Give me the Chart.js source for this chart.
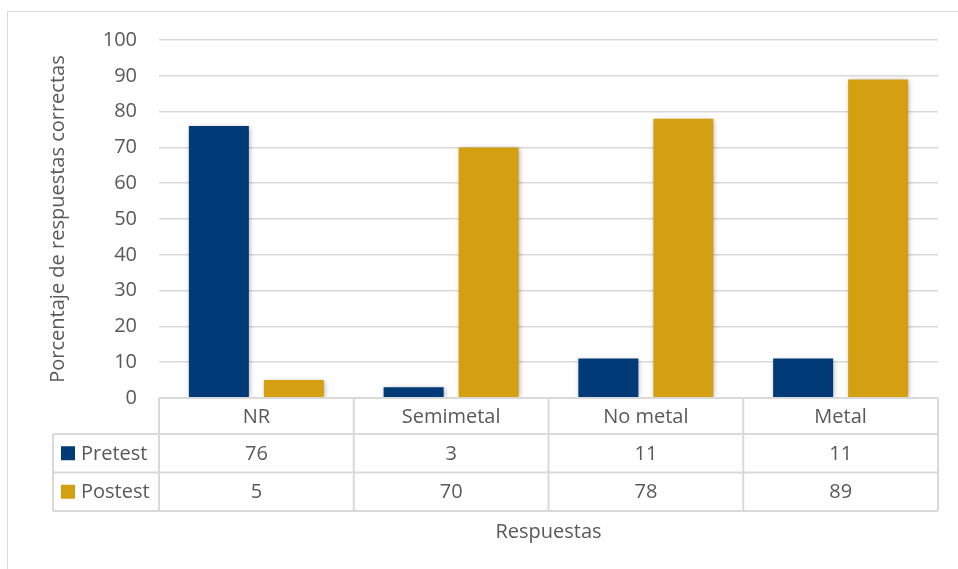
<!DOCTYPE html>
<html>
<head>
<meta charset="utf-8">
<script src="https://cdn.jsdelivr.net/npm/chart.js@4.4.0/dist/chart.umd.min.js"></script>
<style>
  html, body { margin: 0; padding: 0; background: #ffffff; }
  #wrap { position: relative; width: 958px; height: 569px; }
</style>
</head>
<body>
<div id="wrap"><canvas id="c"></canvas></div>
<script>
// ---- data ----
const categories = ['NR', 'Semimetal', 'No metal', 'Metal'];
const seriesNames = ['Pretest', 'Postest'];
const pretest = [76, 3, 11, 11];
const postest = [5, 70, 78, 89];
const yTicks = [0, 10, 20, 30, 40, 50, 60, 70, 80, 90, 100];
const yTitle = 'Porcentaje de respuestas correctas';
const xTitle = 'Respuestas';

// ---- styles ----
const FONT = '"Open Sans", "DejaVu Sans", sans-serif';
const FS = 20;
const TEXT = '#595959';
const GRID = '#D9D9D9';
const colors = ['#003B77', '#D4A011'];

const tablePlugin = {
  id: 'dataTable',
  beforeDraw(chart) {
    const ctx = chart.ctx;
    ctx.save();
    ctx.strokeStyle = '#D9D9D9';
    ctx.lineWidth = 1;
    ctx.strokeRect(7.5, 11.5, 1000, 700);
    ctx.restore();
  },
  beforeDatasetsDraw(chart) {
    const ctx = chart.ctx;
    ctx.save();
    ctx.shadowColor = 'rgba(0,0,0,0.35)';
    ctx.shadowBlur = 5;
    ctx.shadowOffsetX = 1;
    ctx.shadowOffsetY = 1;
  },
  afterDatasetsDraw(chart) {
    chart.ctx.restore();
  },
  afterDraw(chart) {
    const ctx = chart.ctx;
    const area = chart.chartArea;
    const xs = chart.scales.x;
    const n = categories.length;
    const catW = (area.right - area.left) / n;
    const top = area.bottom;
    const r1 = top + 36;
    const r2 = r1 + 38.5;
    const r3 = r2 + 38.5;
    const tableLeft = 53;

    ctx.save();
    ctx.strokeStyle = GRID;
    ctx.lineWidth = 2;
    ctx.beginPath();
    // horizontal lines
    ctx.moveTo(area.left, top); ctx.lineTo(area.right, top);
    [r1, r2, r3].forEach(y => { ctx.moveTo(tableLeft, y); ctx.lineTo(area.right, y); });
    // vertical lines
    ctx.moveTo(tableLeft, r1); ctx.lineTo(tableLeft, r3);
    for (let i = 0; i <= n; i++) {
      const x = area.left + i * catW;
      ctx.moveTo(x, top); ctx.lineTo(x, r3);
    }
    ctx.stroke();

    ctx.fillStyle = TEXT;
    ctx.font = FS + 'px ' + FONT;
    ctx.textAlign = 'center';
    ctx.textBaseline = 'middle';
    categories.forEach((c, i) => {
      const cx = xs.getPixelForValue(i);
      ctx.fillText(c, cx, (top + r1) / 2 + 1);
      ctx.fillText(String(pretest[i]), cx, (r1 + r2) / 2 + 1);
      ctx.fillText(String(postest[i]), cx, (r2 + r3) / 2 + 1);
    });

    // legend keys
    const rows = [[r1, r2], [r2, r3]];
    rows.forEach((r, k) => {
      const cy = (r[0] + r[1]) / 2;
      ctx.fillStyle = colors[k];
      ctx.fillRect(61, cy - 7, 14, 14);
      ctx.fillStyle = TEXT;
      ctx.textAlign = 'left';
      ctx.fillText(seriesNames[k], 81, cy + 1);
    });

    // x axis title
    ctx.textAlign = 'center';
    ctx.fillText(xTitle, (area.left + area.right) / 2, r3 + 21);
    ctx.restore();
  }
};

new Chart(document.getElementById('c'), {
  type: 'bar',
  data: {
    labels: categories,
    datasets: [
      { label: seriesNames[0], data: pretest, backgroundColor: colors[0], borderWidth: 0 },
      { label: seriesNames[1], data: postest, backgroundColor: colors[1], borderWidth: 0 }
    ]
  },
  options: {
    responsive: true,
    maintainAspectRatio: false,
    animation: false,
    devicePixelRatio: 1,
    layout: { padding: { left: 0, top: 40, right: 20, bottom: 171 } },
    plugins: { legend: { display: false }, tooltip: { enabled: false } },
    datasets: { bar: { barPercentage: 0.8, categoryPercentage: 150 / 194.75 } },
    scales: {
      x: { display: false },
      y: {
        min: 0, max: 100,
        afterFit(scale) { scale.width = 159; },
        afterBuildTicks(scale) { scale.ticks = yTicks.map(v => ({ value: v })); },
        border: { display: false },
        grid: { color: GRID, lineWidth: 1.5, drawTicks: false },
        ticks: { color: TEXT, padding: 22, font: { family: FONT, size: FS } },
        title: {
          display: true, text: yTitle, color: TEXT,
          font: { family: FONT, size: FS },
          padding: { top: 46, bottom: 0 }
        }
      }
    }
  },
  plugins: [tablePlugin]
});
</script>
</body>
</html>
